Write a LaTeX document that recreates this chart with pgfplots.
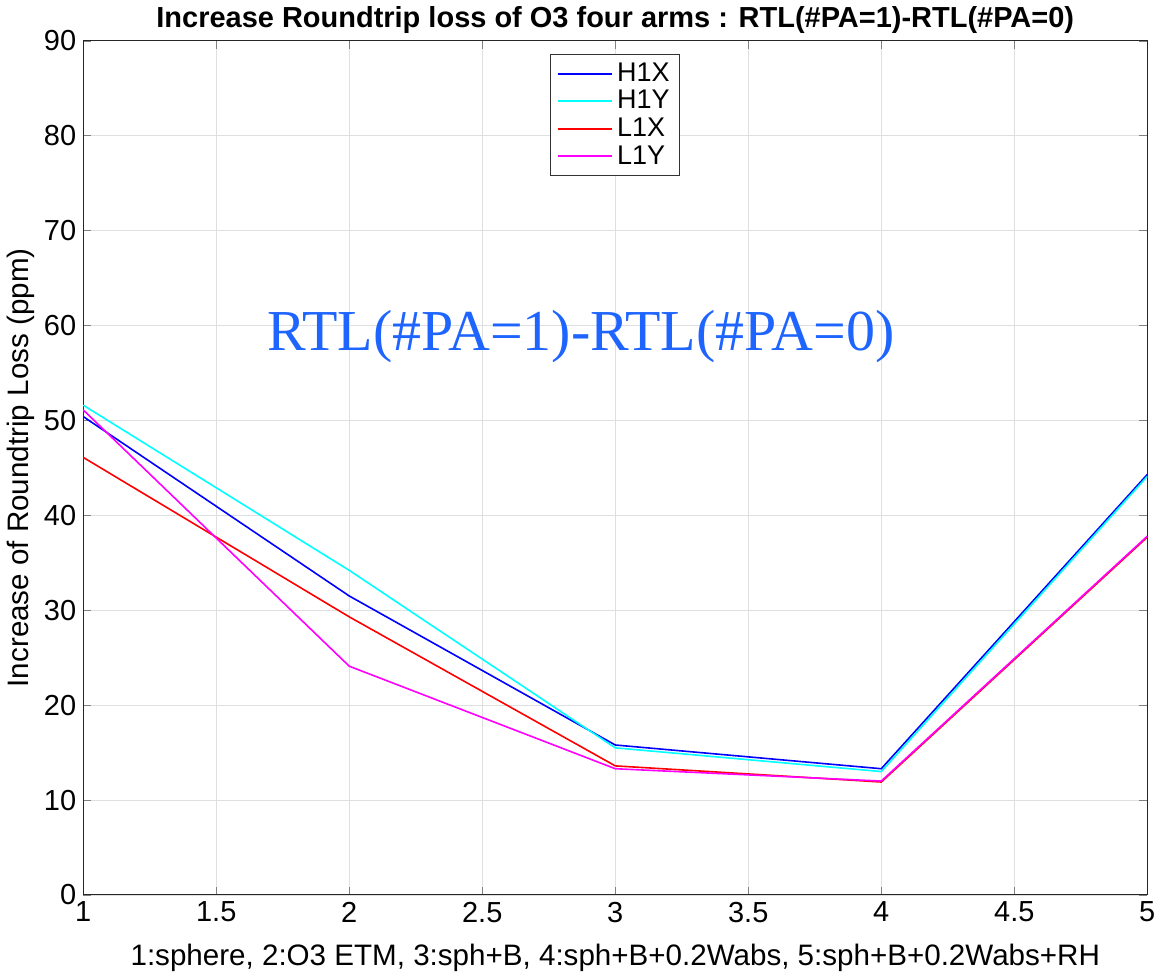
\documentclass[border=0pt]{standalone}
\usepackage{fontspec}
\setmainfont{Liberation Sans}
\newfontfamily\serifann{Liberation Serif}
\usepackage{pgfplots}
\pgfplotsset{compat=1.18}
\definecolor{anncol}{RGB}{30,100,255}
\definecolor{cB}{RGB}{0,0,255}
\definecolor{cC}{RGB}{0,255,255}
\definecolor{cR}{RGB}{255,0,0}
\definecolor{cM}{RGB}{255,0,255}
\begin{document}
\begin{tikzpicture}
\begin{axis}[
  scale only axis,
  width=532.5pt, height=427.5pt,
  xmin=1, xmax=5, ymin=0, ymax=90,
  xtick={1,1.5,...,5}, ytick={0,10,...,90},
  xticklabels={1,1.5,2,2.5,3,3.5,4,4.5,5},
  /pgf/number format/assume math mode=true,
  tick label style={font=\fontsize{14.5}{16}\selectfont},
  grid=major,
  grid style={gray!25, line width=0.3pt},
  tick align=inside,
  major tick length=4pt,
  axis line style={line width=0.5pt, black!85},
  title={\bfseries Increase Roundtrip loss of O3 four arms : RTL(\#PA=1)-RTL(\#PA=0)},
  title style={font=\fontsize{14.5}{16}\selectfont, yshift=-6pt},
  xlabel={1:sphere, 2:O3 ETM, 3:sph+B, 4:sph+B+0.2Wabs, 5:sph+B+0.2Wabs+RH},
  ylabel={Increase of Roundtrip Loss (ppm)},
  label style={font=\fontsize{14.8}{17}\selectfont},
  xlabel style={yshift=-4pt},
  ylabel style={yshift=-2pt},
  legend style={at={(0.5,0.984)}, anchor=north, font=\fontsize{13.5}{15}\selectfont, draw=black!80, line width=0.5pt, row sep=-1pt},
  legend image post style={xscale=1.6, line width=0.9pt},
  legend cell align=left,
  every axis plot/.append style={line width=0.8pt},
]
\addplot[color=cB] coordinates {(1,50.4) (2,31.5) (3,15.8) (4,13.3) (5,44.3)};
\addlegendentry{H1X}
\addplot[color=cC] coordinates {(1,51.6) (2,34.2) (3,15.5) (4,13.0) (5,44.1)};
\addlegendentry{H1Y}
\addplot[color=cR] coordinates {(1,46.1) (2,29.3) (3,13.6) (4,11.9) (5,37.7)};
\addlegendentry{L1X}
\addplot[color=cM] coordinates {(1,51.1) (2,24.1) (3,13.3) (4,12.0) (5,37.8)};
\addlegendentry{L1Y}
\node[font=\serifann\fontsize{29}{33}\selectfont, text=anncol] at (axis cs:2.87,58.8) {RTL(\#PA=1)-RTL(\#PA=0)};
\end{axis}
\end{tikzpicture}
\end{document}
